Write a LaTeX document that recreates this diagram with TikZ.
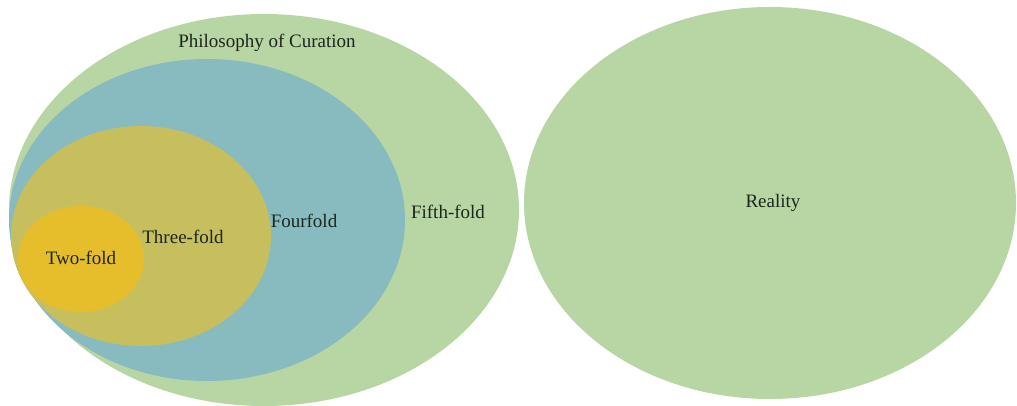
\documentclass[tikz,border=0pt]{standalone}
\usepackage{fontspec}
\setmainfont{Liberation Serif}
\definecolor{foldgreen}{HTML}{B8D5A4}
\definecolor{foldblue}{HTML}{88BBBF}
\definecolor{foldtan}{HTML}{C7BE5E}
\definecolor{foldyellow}{HTML}{E6BE2C}
\definecolor{foldtext}{HTML}{1C261C}
\begin{document}
\begin{tikzpicture}[
  x=0.5pt,
  y=-0.5pt,
  label/.style={text=foldtext,font=\fontsize{9.5}{11}\selectfont,inner sep=0pt}
]
  \useasboundingbox (0,0) rectangle (1017,406);

  % Nested folds.
  \fill[foldgreen] (264,210) ellipse[x radius=255,y radius=196];
  \fill[foldblue] (207,220) ellipse[x radius=198,y radius=161];
  \fill[foldtan] (141,236) ellipse[x radius=130,y radius=110];
  \fill[foldyellow] (81,259) ellipse[x radius=63,y radius=53];

  % Reality on its own.
  \fill[foldgreen] (770,203) ellipse[x radius=246,y radius=196];

  % Labels.
  \node[label] (curation) at (267,43) {Philosophy of Curation};
  \node[label] (fifth) at (448,212) {Fifth-fold};
  \node[label] (four) at (304,221) {Fourfold};
  \node[label] (three) at (183,237) {Three-fold};
  \node[label] (two) at (81,258) {Two-fold};
  \node[label] (reality) at (773,203) {Reality};
\end{tikzpicture}
\end{document}
